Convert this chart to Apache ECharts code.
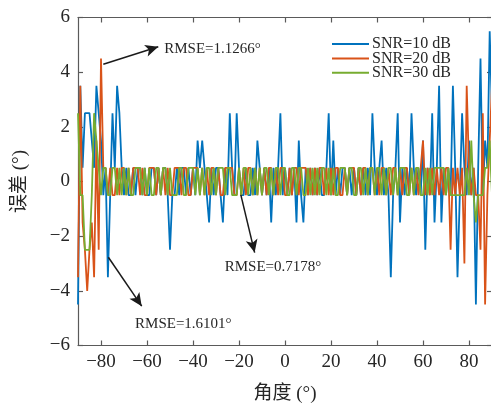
<!DOCTYPE html>
<html>
<head>
<meta charset="utf-8">
<script src="https://cdn.jsdelivr.net/npm/echarts@6/dist/echarts.min.js"></script>
<style>html,body{margin:0;padding:0;background:#fff;}#c{width:491px;height:405px;}</style>
</head>
<body>
<div id="c"></div>
<script>
const angleStart = -90, angleEnd = 90;
const xTicks = [-80, -60, -40, -20, 0, 20, 40, 60, 80];
const yTicks = [-6, -4, -2, 0, 2, 4, 6];
const seriesNames = ['SNR=10 dB', 'SNR=20 dB', 'SNR=30 dB'];

const snr10 = [
 -4.5, 3.5, 0.5, 2.5, 2.5, 2.5, 1.5, 0.5, 3.5, 2.5,
 1.5, -0.5, 0.5, -3.5, -0.5, 2.5, 0.5, 3.5, 2.5, 0.5,
 -0.5, 0.5, -0.5, -0.5, 0.5, -0.5, 0.5, 0.5, -0.5, 0.5,
 -0.5, -0.5, 0.5, 0.5, -0.5, 0.5, -0.5, 0.5, 0.5, -0.5,
 -2.5, -0.5, -0.5, 0.5, -0.5, 0.5, 0.5, -0.5, 0.5, -0.5,
 0.5, -0.5, 1.5, 0.5, 1.5, 0.5, -0.5, -1.5, 0.5, -0.5,
 0.5, 0.5, -0.5, -1.5, 0.5, -0.5, 2.5, 0.5, -0.5, 2.5,
 0.5, -0.5, -0.5, 0.5, -0.5, -0.5, 0.5, -0.5, 1.5, 0.5,
 -0.5, 0.5, -0.5, 0.5, -1.5, 0.5, -0.5, 0.5, 2.5, -0.5,
 0.5, -0.5, 0.5, -0.5, 0.5, -1.5, 1.5, -0.5, -1.5, 0.5,
 -0.5, 0.5, -0.5, 0.5, -0.5, 0.5, -0.5, -0.5, 0.5, 2.5,
 -0.5, 1.5, -0.5, 0.5, -0.5, 0.5, 0.5, -0.5, 0.5, -0.5,
 0.5, -0.5, 0.5, -0.5, 0.5, -0.5, 0.5, -0.5, 2.5, 0.5,
 -0.5, 0.5, 1.5, -0.5, 0.5, -0.5, -3.5, -0.5, 0.5, 2.5,
 -1.5, 0.5, -0.5, 0.5, -0.5, 2.5, 0.5, -0.5, 0.5, -0.5,
 1.5, -2.5, 0.5, -0.5, 2.5, -1.5, 0.5, 3.5, -1.5, 0.5,
 -0.5, 0.5, -0.5, 3.5, 0.5, -3.5, -0.5, 2.5, 0.5, -0.5,
 1.5, -0.5, 0.5, -4.5, 0.5, 4.5, -0.5, 1.5, 0.5, 5.5,
 2.5
];
const snr20 = [
 -3.5, 3.5, -1.5, -2.5, -4, -2.5, -1.5, -3.5, 1.5, -2.5,
 4.5, 0.5, 0.5, -0.5, 0.5, -0.5, -0.5, 0.5, -0.5, 0.5,
 0.5, -0.5, 0.5, -0.5, 0.5, 0.5, 0.5, -0.5, 0.5, -0.5,
 -0.5, 0.5, 0.5, 0.5, -0.5, 0.5, -0.5, 0.5, -0.5, 0.5,
 -0.5, -0.5, 0.5, 0.5, 0.5, -0.5, 0.5, 0.5, -0.5, -0.5,
 0.5, 0.5, 0.5, -0.5, 0.5, -0.5, 0.5, -0.5, 0.5, 0.5,
 -0.5, 0.5, -0.5, -0.5, 0.5, 0.5, 0.5, 0.5, -0.5, -0.5,
 0.5, -0.5, 0.5, -0.5, 0.5, 0.5, -0.5, 0.5, -0.5, 0.5,
 -0.5, 0.5, -0.5, 0.5, 0.5, -0.5, 0.5, -0.5, 0.5, 0.5,
 -0.5, -0.5, 0.5, -0.5, 0.5, 0.5, -0.5, 0.5, 0.5, 0.5,
 -0.5, 0.5, -0.5, 0.5, -0.5, 0.5, 0.5, -0.5, 0.5, -0.5,
 0.5, -0.5, 0.5, 0.5, -0.5, -0.5, 0.5, -0.5, 0.5, 0.5,
 0.5, -0.5, 0.5, -0.5, 0.5, 0.5, -0.5, 0.5, 0.5, -0.5,
 0.5, -0.5, 0.5, 0.5, -0.5, 0.5, -0.5, 0.5, 0.5, -0.5,
 0.5, -0.5, 0.5, 0.5, -0.5, 0.5, -0.5, 0.5, -0.5, 0.5,
 1.5, -0.5, 0.5, -0.5, 0.5, -0.5, 0.5, -0.5, 0.5, -0.5,
 0.5, 0.5, -2.5, 0.5, -0.5, 0.5, -0.5, 0.5, -3, 3.5,
 0.5, -0.5, 0.5, -0.5, -0.5, -2.5, 2.5, -4.5, -0.5, 1.5,
 3.5
];
const snr30 = [
 2.5, -0.5, -0.5, -2.5, -2.5, -2.5, -0.5, 2.5, 1.5, 0.5,
 -0.5, 0.5, 0.5, -0.5, -0.5, 0.5, 0.5, -0.5, 0.5, -0.5,
 0.5, -0.5, 0.5, -0.5, -0.5, 0.5, 0.5, 0.5, -0.5, 0.5,
 -0.5, 0.5, -0.5, -0.5, 0.5, 0.5, -0.5, 0.5, 0.5, -0.5,
 0.5, -0.5, -0.5, -0.5, 0.5, 0.5, -0.5, -0.5, 0.5, 0.5,
 0.5, -0.5, 0.5, -0.5, 0.5, -0.5, 0.5, 0.5, -0.5, 0.5,
 -0.5, 0.5, 0.5, 0.5, -0.5, 0.5, 0.5, -0.5, -0.5, -0.5,
 0.5, -0.5, 0.5, 0.5, -0.5, 0.5, -0.5, 0.5, -0.5, 0.5,
 -0.5, 0.5, 0.5, -0.5, 0.5, -0.5, 0.5, 0.5, -0.5, 0.5,
 0.5, -0.5, -0.5, 0.5, 0.5, -0.5, 0.5, 0.5, -0.5, -0.5,
 0.5, -0.5, 0.5, -0.5, 0.5, -0.5, 0.5, 0.5, -0.5, 0.5,
 -0.5, 0.5, -0.5, -0.5, 0.5, 0.5, 0.5, -0.5, 0.5, 0.5,
 -0.5, -0.5, 0.5, 0.5, -0.5, 0.5, -0.5, 0.5, 0.5, -0.5,
 0.5, 0.5, -0.5, 0.5, -0.5, 0.5, 0.5, -0.5, 0.5, -0.5,
 0.5, 0.5, 0.5, -0.5, -0.5, 0.5, -0.5, 0.5, 0.5, -0.5,
 -0.5, 0.5, -0.5, 0.5, -0.5, 0.5, 0.5, 0.5, 0.5, 0.5,
 -0.5, 0.5, -0.5, -0.5, -0.5, -0.5, -0.5, -0.5, -0.5, 0.5,
 -0.5, 1.5, -0.5, -1.5, -0.5, -0.5, -0.5, 0.5, 0.5, 1.5,
 -0.5
];
const annotations = [
  {text: 'RMSE=1.1266°', from: [-79, 4.29], to: [-55.1, 4.93], at: [-52.5, 4.85]},
  {text: 'RMSE=0.7178°', from: [-19.2, -0.49], to: [-13.2, -2.6], at: [-26.2, -3.12]},
  {text: 'RMSE=1.6101°', from: [-76.8, -2.77], to: [-62.3, -4.56], at: [-65.2, -5.2]}
];

const angles = [];
for (let a = angleStart; a <= angleEnd; a++) angles.push(a);
const pair = vals => angles.map((a, i) => [a, vals[i]]);

const FONT = "'Liberation Serif', 'Noto Sans CJK SC', serif";
const fmt = v => String(v).replace('-', '\u2212');
const axisLineStyle = {color: '#5a5a5a', width: 1.2};
const colors = ['#0072BD', '#D95319', '#77AC30'];
const LW = 1.8;

const chart = echarts.init(document.getElementById('c'), null, {renderer: 'canvas'});
chart.setOption({
  animation: false,
  textStyle: {fontFamily: FONT},
  grid: {left: 78, top: 17.5, width: 414, height: 328, containLabel: false, outerBoundsMode: 'none'},
  legend: {
    orient: 'vertical', left: 327, top: 31, itemGap: -1.6,
    itemWidth: 37, itemHeight: 2, icon: 'rect',
    data: seriesNames,
    textStyle: {fontFamily: FONT, fontSize: 16, color: '#262626', lineHeight: 16, padding: [0, 0, 0, -2]}
  },
  xAxis: [{
    type: 'value', min: angleStart, max: angleEnd, position: 'bottom',
    name: '角度 (°)', nameLocation: 'middle', nameGap: 39,
    nameTextStyle: {fontFamily: FONT, fontSize: 19, color: '#262626'},
    axisLine: {show: true, onZero: false, lineStyle: axisLineStyle},
    axisTick: {show: true, inside: true, length: 5, customValues: xTicks, lineStyle: axisLineStyle},
    axisLabel: {show: true, customValues: xTicks, formatter: fmt, fontFamily: FONT, fontSize: 19, color: '#262626', margin: 7},
    splitLine: {show: false}
  }, {
    type: 'value', min: angleStart, max: angleEnd, position: 'top',
    axisLine: {show: true, onZero: false, lineStyle: axisLineStyle},
    axisTick: {show: true, inside: true, length: 5, customValues: xTicks, lineStyle: axisLineStyle},
    axisLabel: {show: false}, splitLine: {show: false}
  }],
  yAxis: [{
    type: 'value', min: -6, max: 6, interval: 2, position: 'left',
    name: '误差 (°)', nameLocation: 'middle', nameGap: 48, nameRotate: 90,
    nameTextStyle: {fontFamily: FONT, fontSize: 19, color: '#262626'},
    axisLine: {show: true, onZero: false, lineStyle: axisLineStyle},
    axisTick: {show: true, inside: true, length: 5, lineStyle: axisLineStyle},
    axisLabel: {formatter: fmt, fontFamily: FONT, fontSize: 19, color: '#262626', margin: 8},
    splitLine: {show: false}
  }, {
    type: 'value', min: -6, max: 6, interval: 2, position: 'right',
    axisLine: {show: true, onZero: false, lineStyle: axisLineStyle},
    axisTick: {show: true, inside: true, length: 5, lineStyle: axisLineStyle},
    axisLabel: {show: false}, splitLine: {show: false}
  }],
  series: [
    {name: seriesNames[0], type: 'line', data: pair(snr10), showSymbol: false, symbol: 'none',
     lineStyle: {width: LW, color: colors[0]}, itemStyle: {color: colors[0]}},
    {name: seriesNames[1], type: 'line', data: pair(snr20), showSymbol: false, symbol: 'none',
     lineStyle: {width: LW, color: colors[1]}, itemStyle: {color: colors[1]}},
    {name: seriesNames[2], type: 'line', data: pair(snr30), showSymbol: false, symbol: 'none',
     lineStyle: {width: LW, color: colors[2]}, itemStyle: {color: colors[2]},
     markLine: {
       silent: true, animation: false,
       symbol: ['none', 'arrow'], symbolSize: [9, 13],
       lineStyle: {color: '#1a1a1a', width: 1.5, type: 'solid'},
       label: {show: false},
       data: annotations.map(a => [{coord: a.from}, {coord: a.to}])
     },
     markPoint: {
       silent: true, animation: false, symbol: 'circle', symbolSize: 0,
       label: {show: true, position: 'right', distance: 0, formatter: '{b}',
               fontFamily: FONT, fontSize: 15, color: '#262626'},
       data: annotations.map(a => ({name: a.text, coord: a.at}))
     }}
  ]
});
</script>
</body>
</html>
